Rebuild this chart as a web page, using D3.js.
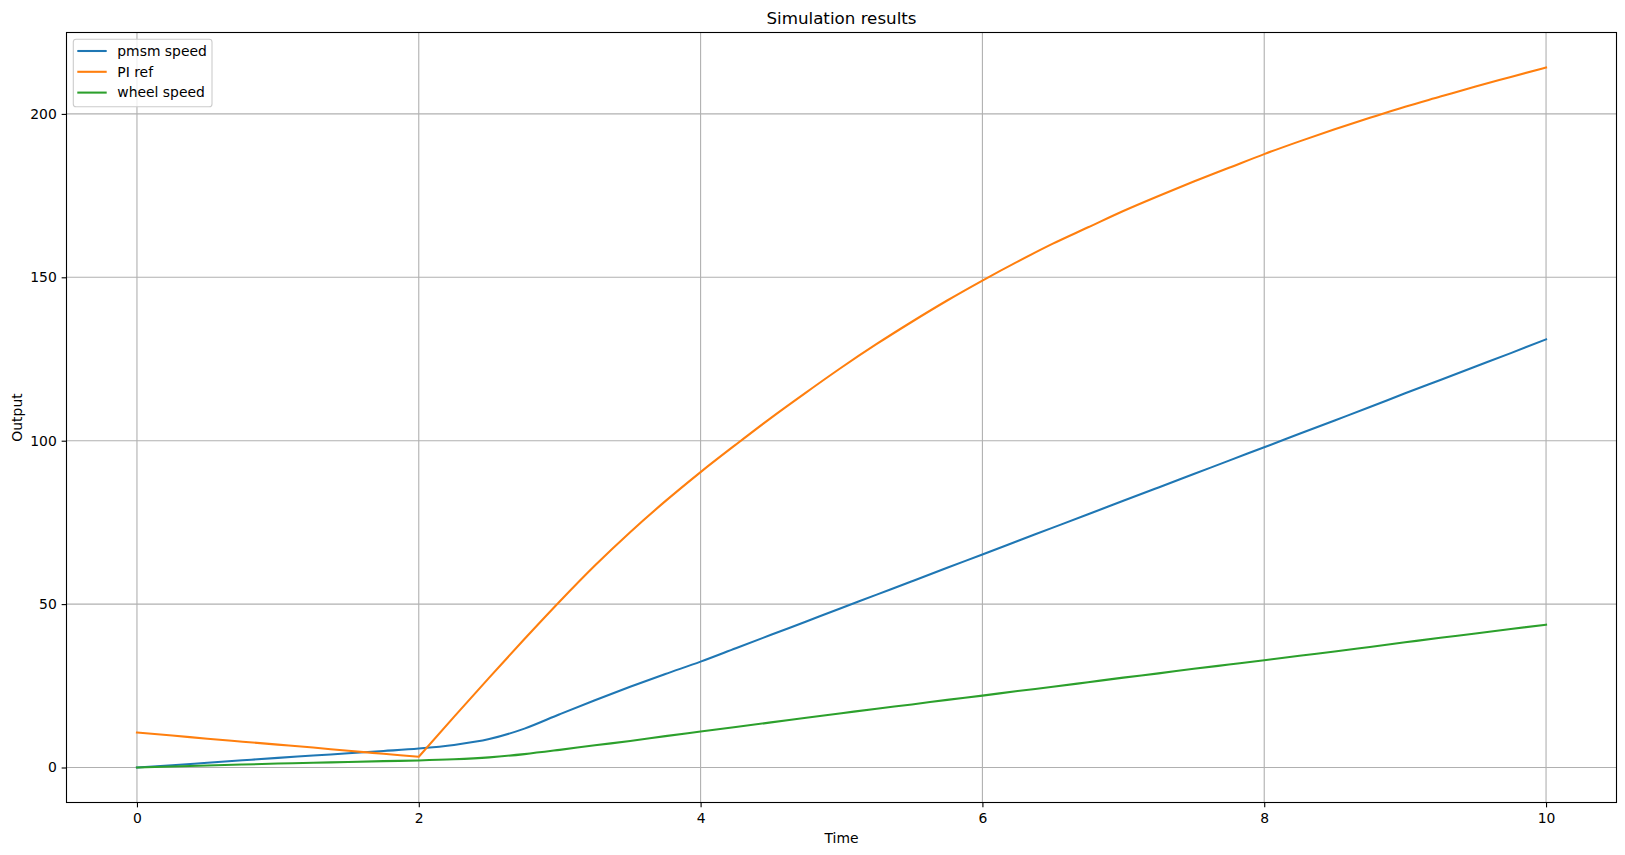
<!DOCTYPE html>
<html>
<head>
<meta charset="utf-8">
<script src="https://d3js.org/d3.v7.min.js"></script>
<style>
  body { margin: 0; background: #fff; }
  text { font-family: "DejaVu Sans", sans-serif; }
</style>
</head>
<body>
<div id="chart"></div>
<script>
// Figure and axes box (pixels).
var width = 1625;
var height = 855;
var m = { left: 66.5, top: 32.5, right: 1625 - 1616.5, bottom: 855 - 802.5 };

var time = [0, 0.25, 0.5, 0.75, 1, 1.25, 1.5, 1.75, 2, 2.25, 2.5, 2.75, 3, 3.25, 3.5, 3.75,
  4, 4.25, 4.5, 4.75, 5, 5.25, 5.5, 5.75, 6, 6.25, 6.5, 6.75, 7, 7.25, 7.5, 7.75,
  8, 8.25, 8.5, 8.75, 9, 9.25, 9.5, 9.75, 10];

var pmsmSpeed = [0, 0.7, 1.45, 2.2, 2.95, 3.65, 4.35, 5.05, 5.8, 6.9, 8.7, 11.9, 16.3, 20.6, 24.7, 28.6,
  32.4, 36.5, 40.6, 44.7, 48.8, 52.9, 57.0, 61.1, 65.2, 69.3, 73.4, 77.5, 81.6, 85.7, 89.8, 93.9,
  98.0, 102.1, 106.2, 110.3, 114.5, 118.6, 122.7, 126.8, 131.0];

var piRef = [10.7, 9.8, 8.8, 7.9, 7.0, 6.1, 5.1, 4.2, 3.3, 15.5, 27.5, 39.3, 50.8, 61.8, 72.0, 81.5,
  90.4, 98.8, 107.0, 114.8, 122.4, 129.6, 136.4, 142.9, 149.0, 154.8, 160.3, 165.3, 170.3, 174.9, 179.3, 183.5,
  187.7, 191.6, 195.3, 198.8, 202.2, 205.3, 208.4, 211.3, 214.2];

var wheelSpeed = [0, 0.3, 0.6, 0.9, 1.2, 1.45, 1.7, 1.95, 2.15, 2.5, 3.1, 4.1, 5.4, 6.8, 8.1, 9.6,
  11.0, 12.4, 13.8, 15.2, 16.6, 18.0, 19.3, 20.7, 22.0, 23.4, 24.7, 26.1, 27.5, 28.8, 30.2, 31.5,
  32.8, 34.2, 35.5, 36.9, 38.3, 39.7, 41.0, 42.4, 43.7];

var seriesNames = ["pmsm speed", "PI ref", "wheel speed"];
var seriesColors = ["#1f77b4", "#ff7f0e", "#2ca02c"];
var xTicks = [0, 2, 4, 6, 8, 10];
var yTicks = [0, 50, 100, 150, 200];
// the PI reference restarts at t = 2, keep that corner sharp
var breakTime = 2;

var series = [pmsmSpeed, piRef, wheelSpeed].map(function(vals, i) {
  return {
    name: seriesNames[i],
    color: seriesColors[i],
    points: vals.map(function(v, j) { return [time[j], v]; })
  };
});

// matplotlib style 5% margins around the data range
var xExt = d3.extent(time);
var yExt = d3.extent(pmsmSpeed.concat(piRef, wheelSpeed));
var xPad = (xExt[1] - xExt[0]) * 0.05;
var yPad = (yExt[1] - yExt[0]) * 0.05;

var x = d3.scaleLinear()
    .domain([xExt[0] - xPad, xExt[1] + xPad])
    .range([m.left, width - m.right]);
var y = d3.scaleLinear()
    .domain([yExt[0] - yPad, yExt[1] + yPad])
    .range([height - m.bottom, m.top]);

var svg = d3.select("#chart").append("svg")
    .attr("width", width)
    .attr("height", height);

// Grid lines
var grid = svg.append("g").attr("class", "grid");
grid.selectAll(".gx").data(xTicks).enter().append("line")
    .attr("x1", function(d) { return x(d); })
    .attr("x2", function(d) { return x(d); })
    .attr("y1", m.top)
    .attr("y2", height - m.bottom)
    .attr("stroke", "#b0b0b0")
    .attr("stroke-width", 1.1);
grid.selectAll(".gy").data(yTicks).enter().append("line")
    .attr("x1", m.left)
    .attr("x2", width - m.right)
    .attr("y1", function(d) { return y(d); })
    .attr("y2", function(d) { return y(d); })
    .attr("stroke", "#b0b0b0")
    .attr("stroke-width", 1.1);

// Lines
var line = d3.line()
    .x(function(d) { return x(d[0]); })
    .y(function(d) { return y(d[1]); })
    .curve(d3.curveMonotoneX);

function seriesPath(d) {
  if (d.name != "PI ref") return line(d.points);
  var before = d.points.filter(function(p) { return p[0] <= breakTime; });
  var after = d.points.filter(function(p) { return p[0] >= breakTime; });
  // second piece continues from where the first ended
  return line(before) + line(after).replace(/^M/, "L");
}

var plotArea = svg.append("g");
plotArea.selectAll("path").data(series).enter().append("path")
    .attr("d", seriesPath)
    .attr("fill", "none")
    .attr("stroke", function(d) { return d.color; })
    .attr("stroke-width", 2.08)
    .attr("stroke-linejoin", "round")
    .attr("stroke-linecap", "square");

// Axes
var xAxis = svg.append("g")
    .attr("transform", "translate(0," + (height - m.bottom) + ")")
    .call(d3.axisBottom(x).tickValues(xTicks).tickSize(4.86).tickPadding(6).tickFormat(d3.format("d")));
var yAxis = svg.append("g")
    .attr("transform", "translate(" + m.left + ",0)")
    .call(d3.axisLeft(y).tickValues(yTicks).tickSize(4.86).tickPadding(4.86).tickFormat(d3.format("d")));

[xAxis, yAxis].forEach(function(a) {
  a.select(".domain").remove();
  a.selectAll(".tick line").attr("stroke", "#000").attr("stroke-width", 1.1);
  a.selectAll(".tick text")
      .attr("fill", "#000")
      .style("font-family", "'DejaVu Sans', sans-serif")
      .style("font-size", "13.9px");
});

// Frame
svg.append("rect")
    .attr("x", m.left)
    .attr("y", m.top)
    .attr("width", width - m.left - m.right)
    .attr("height", height - m.top - m.bottom)
    .attr("fill", "none")
    .attr("stroke", "#000")
    .attr("stroke-width", 1.1);

// Titles
svg.append("text")
    .attr("x", (m.left + width - m.right) / 2)
    .attr("y", 24)
    .attr("text-anchor", "middle")
    .style("font-size", "16.7px")
    .text("Simulation results");

svg.append("text")
    .attr("x", (m.left + width - m.right) / 2)
    .attr("y", 843)
    .attr("text-anchor", "middle")
    .style("font-size", "13.9px")
    .text("Time");

svg.append("text")
    .attr("transform", "translate(21.8," + ((m.top + height - m.bottom) / 2) + ") rotate(-90)")
    .attr("text-anchor", "middle")
    .style("font-size", "13.9px")
    .text("Output");

// Legend
var lg = { x: 73.3, y: 39.3, w: 138.7, h: 67.4, row: 20.8 };
var legend = svg.append("g");
legend.append("rect")
    .attr("x", lg.x)
    .attr("y", lg.y)
    .attr("width", lg.w)
    .attr("height", lg.h)
    .attr("rx", 2.8)
    .attr("fill", "#fff")
    .attr("fill-opacity", 0.8)
    .attr("stroke", "#cccccc")
    .attr("stroke-width", 1.1);

var item = legend.selectAll("g").data(series).enter().append("g")
    .attr("transform", function(d, i) { return "translate(0," + (51 + i * lg.row) + ")"; });
item.append("line")
    .attr("x1", 77.3)
    .attr("x2", 106.7)
    .attr("stroke", function(d) { return d.color; })
    .attr("stroke-width", 2.08);
item.append("text")
    .attr("x", 117.3)
    .attr("dy", "0.35em")
    .style("font-size", "13.9px")
    .text(function(d) { return d.name; });
</script>
</body>
</html>
